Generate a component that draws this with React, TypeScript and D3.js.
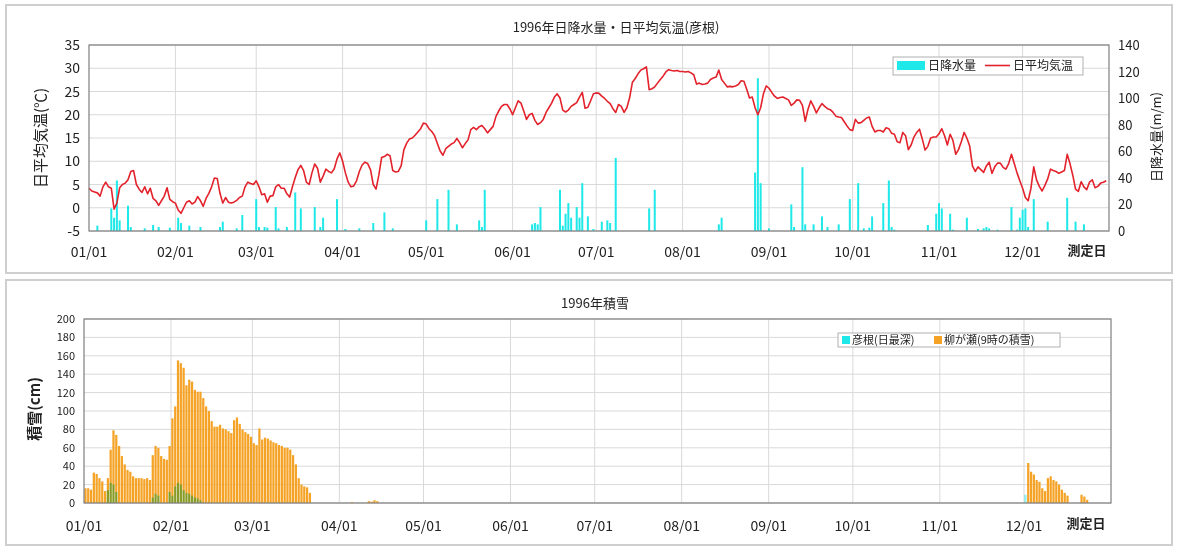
import React from 'react';
import * as d3 from 'd3';

// daily mean temperature at Hikone, 1996 (deg C), one array per month
const tJan = [4.2, 3.6, 3.4, 3.2, 2.5, 4.5, 5.5, 4.5, 4.2, -0.3, 1, 4.3, 5, 5.3, 6, 7.8, 8, 5, 4, 3.3, 4.5, 3, 4.2, 2, 1.5, 0.5, 1.5, 2.5, 4.3, 1.8, 1.3];
const tFeb = [1, -0.5, -1.2, 0, 1.2, 1.5, 0.8, 1.2, 2.4, 1.5, 0.3, 2, 3.1, 4.5, 6.4, 6.3, 3.1, 1, 2.2, 1.2, 1, 1.2, 1.6, 2.2, 2.5, 4.5, 5.5, 5.2, 5];
const tMar = [5.8, 4.5, 2.8, 3, 1.2, 2.5, 2.6, 4.5, 5, 4.2, 4.2, 3, 2.3, 4.5, 6.5, 8.2, 9.1, 8, 5.5, 5, 7.5, 9.4, 8.5, 5.5, 6.8, 8.3, 7.8, 7.5, 8.4, 10.5, 11.8];
const tApr = [10, 7.5, 5.5, 4.5, 4.7, 5.8, 7.8, 9.2, 9.8, 9.5, 8.2, 5, 4, 7, 10.8, 11, 11.5, 11.2, 8, 7.7, 7.8, 9, 12.5, 13.9, 14.8, 15, 15.6, 16.3, 17, 18.2];
const tMay = [18, 17, 16.4, 15.5, 13.8, 12.2, 11.3, 12.7, 13.2, 13.7, 14, 14.9, 14, 12.9, 13.8, 14.6, 16.8, 17.3, 16.8, 17.4, 17.7, 17, 16.1, 16.8, 17.5, 19.6, 20.8, 21.8, 22.2, 22.2, 21.3];
const tJun = [20, 21.5, 23, 22.5, 20.8, 19, 20, 20.3, 18.8, 17.9, 18.3, 19, 20.5, 21.5, 22.5, 23.8, 24.5, 23.6, 21, 20.6, 21, 21.8, 22.2, 22.6, 23.8, 24.8, 21.4, 21.6, 23, 24.5];
const tJul = [24.7, 24.6, 24, 23.5, 22.9, 22.4, 21.3, 20.5, 22.2, 21.8, 20.5, 21.5, 23.7, 27, 27.8, 28.8, 29.6, 29.9, 30.3, 25.4, 25.6, 26, 26.8, 27.6, 28.3, 29.2, 29.7, 29.5, 29.4, 29.5, 29.3];
const tAug = [29.3, 29.2, 29.3, 29, 28.6, 26.6, 26.8, 26.5, 26.6, 26.8, 27.6, 27.9, 28.1, 29.6, 27.6, 26.8, 26, 26.1, 26, 26.2, 26.5, 27.3, 27.2, 25.5, 23.6, 23.8, 21.5, 20, 21.5, 24.5, 26.2];
const tSep = [25.7, 24.8, 24, 23.5, 23.7, 23.8, 23.5, 23.2, 22, 22.5, 23.2, 23.1, 22, 18.6, 21.2, 23, 21.8, 20.4, 21.5, 22.4, 21.8, 21.3, 21.1, 20.5, 19.7, 19.5, 19.4, 18.5, 17.6, 16.8];
const tOct = [16.6, 19, 18.2, 18.3, 18.8, 19.3, 19.5, 17.5, 16.3, 16.6, 16.6, 16.3, 17.2, 17, 16, 15.8, 14.2, 14, 16.2, 15.5, 12.5, 13.5, 15.2, 16.2, 16.9, 14.8, 12.4, 13.2, 15, 15.2, 15.2];
const tNov = [15.9, 17, 15.5, 13.5, 15.8, 14.5, 11.5, 12.5, 14.2, 16.2, 15, 13.3, 9, 7.8, 8.8, 8.2, 7.6, 9, 9.8, 7.4, 8.8, 9.6, 9.6, 8.7, 8.3, 9.5, 11.5, 9.5, 7.5, 5.8];
const tDec = [4.2, 2.2, 1.5, 4.2, 8.8, 6, 4.6, 3.6, 4.8, 6.2, 8.3, 8, 7.8, 7.4, 7.7, 8, 11.5, 9.5, 7, 4, 3.5, 5.6, 4.5, 3.9, 5.5, 6, 4.3, 4.6, 5.3, 5.5, 5.8];

// daily precipitation, [day of year, mm]; days not listed had none
const rainfall: [number, number][] = [
  [4, 4], [9, 17], [10, 10], [11, 38], [12, 8], [15, 19], [16, 3], [21, 2], [24, 4.5], [26, 3], [30, 2.5],
  [33, 10], [34, 6], [37, 4], [41, 3], [48, 3], [49, 7], [54, 2], [56, 12],
  [61, 24], [62, 3], [64, 3], [65, 2.5], [68, 18], [69, 2], [72, 3], [75, 29], [77, 17], [82, 18], [84, 3], [85, 10], [90, 24],
  [93, 1.5], [98, 2], [103, 6], [107, 14], [110, 2],
  [122, 8], [126, 24], [130, 31], [133, 5], [141, 8], [142, 3], [143, 31],
  [160, 5], [161, 6], [162, 5], [163, 18], [170, 31], [171, 4], [172, 13], [173, 21], [174, 10], [176, 18], [177, 10], [178, 36], [180, 11], [182, 1.5],
  [185, 7], [187, 8], [188, 6], [190, 55], [202, 17], [204, 31],
  [227, 5], [228, 10], [240, 44], [241, 115], [242, 36],
  [245, 2], [253, 20], [254, 3], [257, 48], [258, 5], [261, 5], [264, 11], [266, 3], [270, 5], [274, 24],
  [277, 36], [279, 2], [281, 2.5], [282, 11], [286, 21], [288, 38], [289, 3], [290, 1], [302, 4.5], [305, 13],
  [306, 21], [307, 17], [310, 13], [311, 1], [316, 10], [320, 1.5], [322, 2], [323, 3], [324, 2], [327, 1], [332, 18], [334, 1], [335, 10],
  [336, 16], [337, 17], [338, 3], [340, 24], [345, 7], [352, 25], [355, 7], [358, 5],
];

// snow depth, [day of year, cm]
const snowYanagase: [number, number][] = [
  [1, 16], [2, 16], [3, 14.5], [4, 33], [5, 31.5], [6, 27], [7, 23.5], [8, 13], [9, 27], [10, 58], [11, 79], [12, 74], [13, 62],
  [14, 51], [15, 42], [16, 36], [17, 34], [18, 29], [19, 27], [20, 27], [21, 27], [22, 26], [23, 27], [24, 25], [25, 52], [26, 62],
  [27, 60], [28, 51], [29, 48], [30, 47], [31, 62], [32, 92], [33, 105], [34, 155], [35, 152], [36, 147], [37, 128], [38, 134],
  [39, 132], [40, 123], [41, 121], [42, 121], [43, 114], [44, 105], [45, 100], [46, 89], [47, 83], [48, 83], [49, 85], [50, 81],
  [51, 80], [52, 78], [53, 76], [54, 90], [55, 93], [56, 86], [57, 80], [58, 77], [59, 75], [60, 72], [61, 65], [62, 63], [63, 81],
  [64, 69], [65, 71], [66, 70], [67, 68], [68, 66], [69, 65], [70, 63], [71, 62], [72, 60], [73, 60], [74, 58], [75, 52], [76, 42],
  [77, 27], [78, 20], [79, 18], [80, 17], [81, 11],
  [96, 1], [102, 2], [103, 1.5], [104, 3], [105, 2],
  [337, 43.5], [338, 34], [339, 31], [340, 25], [341, 23], [342, 16], [343, 13], [344, 27], [345, 29], [346, 25], [347, 23.5],
  [348, 20], [349, 14.5], [350, 11], [351, 8], [356, 9], [357, 7], [358, 3.5],
];
const snowHikone: [number, number][] = [
  [9, 14], [10, 22], [11, 20], [12, 12], [25, 6], [26, 10], [27, 8], [31, 12], [32, 8], [33, 18], [34, 22], [35, 20], [36, 14],
  [37, 11], [38, 10], [39, 8], [40, 6], [41, 5], [42, 3], [336, 9],
];

const monthLabels = ['01/01', '02/01', '03/01', '04/01', '05/01', '06/01', '07/01', '08/01', '09/01', '10/01', '11/01', '12/01'];
const tempTicks = [-5, 0, 5, 10, 15, 20, 25, 30, 35];
const rainTicks = [0, 20, 40, 60, 80, 100, 120, 140];
const snowTicks = [0, 20, 40, 60, 80, 100, 120, 140, 160, 180, 200];

const FONT = "'Noto Sans CJK JP', 'Noto Sans', sans-serif";
const CYAN = '#1ee8e8';
const RED = '#e3232c';
const ORANGE = '#f5a327';
const GRID = '#d9d9d9';
const FRAME = '#7f7f7f';

const dayDate = (d: number) => new Date(1996, 0, d);
const yearStart = new Date(1996, 0, 1);
const yearEnd = new Date(1997, 0, 1);

export default function App() {
  const temps = [...tJan, ...tFeb, ...tMar, ...tApr, ...tMay, ...tJun, ...tJul, ...tAug, ...tSep, ...tOct, ...tNov, ...tDec];

  // upper panel
  const pT = { left: 89, right: 1109, top: 45, bottom: 231 };
  const xT = d3.scaleTime().domain([yearStart, yearEnd]).range([pT.left, pT.right]);
  const yTemp = d3.scaleLinear().domain([-5, 35]).range([pT.bottom, pT.top]);
  const yRain = d3.scaleLinear().domain([0, 140]).range([pT.bottom, pT.top]);
  const tempLine = d3.line<number>()
    .x((_, i) => xT(dayDate(i + 1)))
    .y(v => yTemp(v))(temps) || '';

  // lower panel
  const pB = { left: 84, right: 1111, top: 319, bottom: 503 };
  const xB = d3.scaleTime().domain([yearStart, yearEnd]).range([pB.left, pB.right]);
  const ySnow = d3.scaleLinear().domain([0, 200]).range([pB.bottom, pB.top]);
  const dayW = xB(dayDate(2)) - xB(dayDate(1));

  const months = monthLabels.map((label, i) => ({ label, date: new Date(1996, i, 1) }));

  return (
    <svg width={1178} height={548} style={{ position: 'absolute', left: 0, top: 0, background: '#fff' }} fontFamily={FONT}>
      <rect x={6} y={5} width={1166} height={268} fill="#fff" stroke="#cfcfcf" strokeWidth={2} />
      <rect x={6} y={280} width={1166} height={265} fill="#fff" stroke="#cfcfcf" strokeWidth={2} />

      {/* ---------- upper: rain + temperature ---------- */}
      <text x={616} y={32} textAnchor="middle" fontSize={13} fill="#222">1996年日降水量・日平均気温(彦根)</text>
      {tempTicks.map(t => (
        <line key={'gt' + t} x1={pT.left} x2={pT.right} y1={yTemp(t)} y2={yTemp(t)} stroke={GRID} />
      ))}
      {months.slice(1).map(m => (
        <line key={'gv' + m.label} x1={xT(m.date)} x2={xT(m.date)} y1={pT.top} y2={pT.bottom} stroke={GRID} />
      ))}
      {rainfall.map(([d, v]) => (
        <rect key={'r' + d} x={xT(dayDate(d)) - 1} width={2} y={yRain(v)} height={yRain(0) - yRain(v)} fill={CYAN} />
      ))}
      <path d={tempLine} fill="none" stroke={RED} strokeWidth={1.6} strokeLinejoin="round" />
      <rect x={pT.left} y={pT.top} width={pT.right - pT.left} height={pT.bottom - pT.top} fill="none" stroke={FRAME} strokeWidth={1.2} />

      {tempTicks.map(t => (
        <text key={'lt' + t} x={80} y={yTemp(t) + 5} textAnchor="end" fontSize={14} fill="#222">{t}</text>
      ))}
      {rainTicks.map(t => (
        <text key={'rt' + t} x={1118} y={yRain(t) + 5} fontSize={13} fill="#222">{t}</text>
      ))}
      {months.map(m => (
        <text key={'xt' + m.label} x={xT(m.date)} y={257} textAnchor="middle" fontSize={14} fill="#222">{m.label}</text>
      ))}
      <text x={1087} y={255} textAnchor="middle" fontSize={13} fontWeight="bold" fill="#222">測定日</text>
      <text transform="translate(46,138) rotate(-90)" textAnchor="middle" fontSize={15} fill="#222">日平均気温(℃)</text>
      <text transform="translate(1161,137) rotate(-90)" textAnchor="middle" fontSize={13} fill="#222">日降水量(m/m)</text>

      <g>
        <rect x={893} y={57} width={190} height={18} fill="#fff" stroke="#b0b0b0" />
        <rect x={897} y={61} width={28} height={9} fill={CYAN} />
        <text x={928} y={70} fontSize={12} fill="#222">日降水量</text>
        <line x1={985} x2={1010} y1={65.5} y2={65.5} stroke={RED} strokeWidth={1.6} />
        <text x={1013} y={70} fontSize={12} fill="#222">日平均気温</text>
      </g>

      {/* ---------- lower: snow depth ---------- */}
      <text x={595} y={308} textAnchor="middle" fontSize={13} fill="#222">1996年積雪</text>
      {snowTicks.map(t => (
        <line key={'gs' + t} x1={pB.left} x2={pB.right} y1={ySnow(t)} y2={ySnow(t)} stroke={GRID} />
      ))}
      {months.slice(1).map(m => (
        <line key={'gb' + m.label} x1={xB(m.date)} x2={xB(m.date)} y1={pB.top} y2={pB.bottom} stroke={GRID} />
      ))}
      {snowYanagase.map(([d, v]) => (
        <rect key={'sy' + d} x={xB(dayDate(d)) + 0.3} width={dayW * 0.8} y={ySnow(v)} height={ySnow(0) - ySnow(v)} fill={ORANGE} />
      ))}
      {snowHikone.map(([d, v]) => (
        <rect key={'sh' + d} x={xB(dayDate(d)) + 0.3} width={dayW * 0.8} y={ySnow(v)} height={ySnow(0) - ySnow(v)}
          fill={CYAN} opacity={0.5} style={{ mixBlendMode: 'multiply' }} />
      ))}
      <rect x={pB.left} y={pB.top} width={pB.right - pB.left} height={pB.bottom - pB.top} fill="none" stroke={FRAME} strokeWidth={1.2} />

      {snowTicks.map(t => (
        <text key={'st' + t} x={75} y={ySnow(t) + 4} textAnchor="end" fontSize={11} fill="#222">{t}</text>
      ))}
      {months.map(m => (
        <text key={'xb' + m.label} x={xB(m.date)} y={531} textAnchor="middle" fontSize={14} fill="#222">{m.label}</text>
      ))}
      <text x={1086} y={528} textAnchor="middle" fontSize={13} fontWeight="bold" fill="#222">測定日</text>
      <text transform="translate(40,409) rotate(-90)" textAnchor="middle" fontSize={15} fontWeight="bold" fill="#222">積雪(cm)</text>

      <g>
        <rect x={838} y={333} width={222} height={14} fill="#fff" stroke="#b0b0b0" />
        <rect x={842} y={336} width={8} height={8} fill={CYAN} />
        <text x={852} y={344} fontSize={11} fill="#222">彦根(日最深)</text>
        <rect x={934} y={336} width={8} height={8} fill={ORANGE} />
        <text x={944} y={344} fontSize={11} fill="#222">柳が瀬(9時の積雪)</text>
      </g>
    </svg>
  );
}
